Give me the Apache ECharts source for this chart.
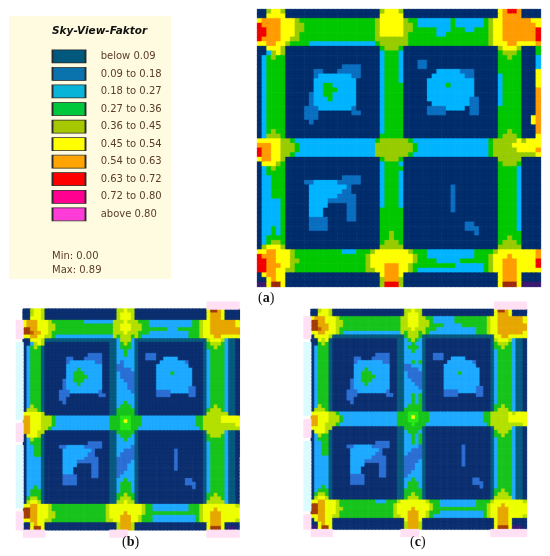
<!DOCTYPE html>
<html>
<head>
<meta charset="utf-8">
<script src="https://cdn.jsdelivr.net/npm/echarts@6/dist/echarts.min.js"></script>
<style>
html, body, #main { margin: 0; padding: 0; width: 550px; height: 556px; overflow: hidden; background: #fff; }
</style>
</head>
<body>
<div id="main"></div>
<script>
// legend classes
const legendLabels = ["below 0.09", "0.09 to 0.18", "0.18 to 0.27", "0.27 to 0.36", "0.36 to 0.45", "0.45 to 0.54", "0.54 to 0.63", "0.63 to 0.72", "0.72 to 0.80", "above 0.80"];
const legendColors = ["#00587c", "#0a72ad", "#08b4d8", "#00c83c", "#a6c800", "#ffff00", "#ffa400", "#ff0000", "#ff0090", "#ff3cd8"];

// one character per cell, columns grouped: edge, block, road, block, road, edge
// 0 navy 1 blue 2 cyan 3 green 4 olive 5 yellow 6 orange 7 red 8 dark red 9 purple t teal g bright green p pink w pale cyan
const cellCodes = "0123456789tgpw";
const paletteA = ["#002d6c", "#0a6fc0", "#00b4ff", "#00c800", "#98cc00", "#ffff00", "#ff9c00", "#f00000", "#9c2a10", "#3a1a70", "#005a7c", "#20e020", "#ffe0f4", "#dcfbff"];
const paletteB = ["#0c2f70", "#2c6fd4", "#1eaaff", "#18c41c", "#b4e000", "#eeff00", "#e6a800", "#c06000", "#a23c08", "#3a1a78", "#085a7e", "#28e818", "#ffe0f4", "#dcfbff"];

const panelA = [
"004554 00000000000000000000 45554 00000000000000000000 56776 0000",
"005555 00000000000000000000 55555 00000000000000000000 56666 0000",
"566665 55433333333333333334 55555 43322222223222222345 56666 6655",
"766665 55443333333333333334 55555 44322222223222222345 56666 6665",
"776665 55443333333333333334 55555 44333332223332233345 56666 6667",
"776665 55433333333333333334 55555 43333332233333333345 56666 6667",
"766665 54433333333333333334 44444 43333333333333333345 56666 6667",
"556655 43333222222222222223 44444 43333333333333333345 55665 5556",
"005554 00000000000000000000 34443 00000000000000000000 45554 0003",
"002454 00000000000000000000 23332 00000000000000000000 34443 0003",
"023433 00000000000000000000 23332 00000000000000000000 33433 0002",
"023333 00000000000000000000 23332 00011000000000000000 33333 0002",
"023333 00000000000011110000 23332 00011000000000000000 33333 0002",
"023333 00000011000111110000 23332 00000002222211100000 33333 0005",
"023333 00000012222222110000 23332 00000022222221100000 23333 0005",
"023333 00000022222222200000 23332 00000222222222200000 23333 0005",
"023333 00000022332222200000 23333 00000222232222200000 23333 0005",
"023333 00000022333222200000 23333 00000222222222200000 23333 0006",
"023333 00000122332222200000 23333 00000222222222200000 23333 0006",
"023333 00000122232222200000 23333 00000222222222110000 23333 0006",
"023333 00000122222222200000 23333 00000022222222110000 23333 0006",
"023333 00001112222222100000 23333 00000111122220110000 33333 0006",
"023333 00001110000000110000 23333 00000111100000110000 33333 0006",
"023333 00001110000000000000 23333 00000000000000000000 33333 0056",
"023333 00000100000000000000 23333 00000000000000000000 33333 0056",
"023333 00000000000000000000 23333 00000000000000000000 33333 0006",
"023433 00000000000000000000 23333 00000000000000000000 33433 0006",
"024443 00000000000000000000 33333 00000000000000000000 34443 0005",
"555554 43222222222222222223 44444 43222222222222222234 44445 4555",
"666554 44322222222222222224 44444 44322222222222222234 44455 5555",
"766554 44322222222222222224 44444 44322222222222222234 44445 5556",
"766554 43222222222222222224 44444 43222222222222222234 44444 4445",
"566554 00000000000000000000 34443 00000000000000000000 44444 0000",
"055543 00000000000000000000 23332 00000000000000000000 34443 0000",
"023433 00000000000000000000 23333 00000000000000000000 33332 0000",
"023333 00000000000000000000 23332 00000000000000000000 33332 0000",
"022333 00000000000011110000 23332 00000000000000000000 33332 0000",
"022333 00001122222111110000 23332 00000000000000000000 33332 0000",
"022333 00000222222221000000 23332 00000000001000000000 33332 0000",
"022333 00000222222211000000 23332 00000000001000000000 33332 0000",
"022333 00000222222111100000 23332 00000000001000000000 33332 0000",
"022223 00000222211111100000 23332 00000000001000000000 33332 0000",
"022223 00000222200001100000 23332 00000000001000000000 33332 0000",
"022223 00000222000001100000 33333 00000000001000000000 33332 0000",
"022223 00000222000001100000 33333 00000000000000000000 33332 0000",
"022223 00000111100001100000 33333 00000000000000000000 33332 0000",
"022223 00000111100000000000 33333 00000000000001100000 33332 0000",
"022323 00000111100000000000 33333 00000000000001110000 33332 0000",
"022323 00000000000000000000 33433 00000000000000010000 33333 0000",
"023333 00000000000000000000 33433 00000000000000000000 33433 0000",
"023443 00000000000000000000 34443 00000000000000000000 34443 0000",
"045554 00000000000000000000 44444 00000000000000000000 44444 0000",
"556655 54333333333322233345 55555 54333222222222233334 55555 5556",
"766655 54333333333333333455 55555 55433222222222233345 55655 5556",
"776655 54433333333333333455 55555 55433332222233333345 56665 5557",
"776665 54333333333333333455 56665 54333333333222222345 56665 5557",
"776655 44333333333333333445 56665 54322222222222222345 56665 5555",
"056655 00000000000000000000 56665 00000000000000000000 56665 0000",
"005655 00000000000000000000 46664 00000000000000000000 56665 0000",
"995885 00000000000000000000 47774 00000000000000000000 58885 9999"
];

const panelB = [
"004554 00000000000000000000 44544 00000000000000000000 58865 0000",
"004554 00000000000000000000 45554 00000000000000000000 56665 0000",
"005554 00000000000000000000 45554 00000000000000000000 56665 0000",
"566655 54333333333222222224 44544 43332222222222223345 56666 6665",
"566655 54433333333333333334 45554 44332222222222223345 56666 6665",
"886655 54433333333333333334 45554 44333333322233333345 56666 6666",
"887665 54333333333333333334 44544 43332222222222233345 56666 6666",
"556655 44322222222222222224 34443 43222222222222233345 55665 5555",
"005554 tttttttttttttttttttt 24442 tttttttttttttttttttt 45554 2tt0",
"002454 000000000000000000tt 23432 t000000000000000000t 34443 2tt0",
"02343t 000000000000000000tt 23332 t000000000000000000t 33433 2tt0",
"02333t 000000000000000000tt 22322 t000000000000000000t 23333 2tt0",
"02333t 000000000000111100tt 22322 t001110000000000000t 23333 2tt0",
"02333t 000000110001111100tt 22222 t001110022220000000t 23333 2tt0",
"02333t 000000122222221100tt 21222 t000000222222210000t 23333 2tt0",
"02333t 000000222222222200tt 11222 t000002222222220000t 23333 2tt0",
"02333t 000000222322222200tt 11112 t000002222222222000t 23333 2tt0",
"02333t 000000223332222200tt 21111 t000002222322222000t 23333 2tt0",
"02333t 000000223333222200tt 21111 t000002222222222000t 23333 2tt0",
"02333t 000001223332222200tt 22111 t000002222222222000t 23333 2tt0",
"02333t 000001222322222200tt 22211 t000002222222222000t 23333 2tt0",
"02333t 000001222222222200tt 22211 t000002222222221100t 23333 2tt0",
"02333t 000011122222222100tt 22221 t000001111222221100t 23333 2tt0",
"02333t 000011100000000110tt 22222 t000001111000001100t 23333 2tt0",
"02333t 000011000000000000tt 22222 t000000000000000000t 23333 2tt0",
"02333t 000001000000000000tt 22322 t000000000000000000t 23333 2tt0",
"02433t 000000000000000000tt 23332 t000000000000000000t 23433 2tt0",
"04443t 000000000000000000tt 33333 t000000000000000000t 34443 2tt0",
"555554 000000000000000000tt 33333 t000000000000000000t 44444 4tt0",
"665554 44322222222222222233 3ggg3 33222222222222222334 44445 5555",
"665554 44322222222222222233 3g5g3 33222222222222222334 44445 5555",
"665554 44322222222222222233 3ggg3 33222222222222222334 44444 4445",
"665554 43222222222222222233 3ggg3 32222222222222222234 44444 4444",
"665544 000000000000000000tt 33333 t000000000000000000t 44444 2tt0",
"05554t 000000000000000000tt 23332 t000000000000000000t 34443 2tt0",
"02433t 000000000000000000tt 22322 t000000000000000000t 33333 2tt0",
"02333t 000000000000111100tt 22222 t000000000000000000t 23333 2tt0",
"02233t 000011222221111100tt 22221 t000000000000000000t 23333 2tt0",
"02233t 000002222222210000tt 22111 t000000000010000000t 23333 2tt0",
"02233t 000002222222110000tt 21111 t000000000010000000t 23333 2tt0",
"02222t 000002222221111000tt 11111 t000000000010000000t 23333 2tt0",
"02222t 000002222111111000tt 11112 t000000000010000000t 23333 2tt0",
"02222t 000002222000011000tt 11122 t000000000010000000t 23333 2tt0",
"02222t 000002220000011000tt 11122 t000000000010000000t 23333 2tt0",
"02222t 000002220000011000tt 11222 t000000000000000000t 23333 2tt0",
"02222t 000001111000011000tt 12222 t000000000000000000t 23333 2tt0",
"02222t 000001111000000000tt 22322 t000000000000011000t 23333 2tt0",
"02222t 000001111000000000tt 23332 t000000000000011100t 23333 2tt0",
"02232t 000000000000000000tt 23332 t000000000000000100t 23333 2tt0",
"02333t 000000000000000000tt 23332 t000000000000000000t 23333 2tt0",
"02333t 000000000000000000tt 33433 t000000000000000000t 33433 2tt0",
"03443t 000000000000000000tt 34443 t000000000000000000t 34443 2tt0",
"04554t 000000000000000000tt 44544 t000000000000000000t 44444 2tt0",
"556655 54333333333333333455 55555 55433222222222233345 55555 5554",
"886655 54333333333333333455 55555 55433222222222233345 55655 5555",
"886655 54433333333333333455 55655 55433333333333333345 56665 5555",
"886655 54433333333333333455 56665 54333222222222222345 56665 5555",
"556655 44333333333333333445 56665 54333222222222222345 56665 5554",
"005655 00000000000000000000 46664 00000000000000000000 56665 0000",
"095885 00000000000000000000 46664 00000000000000000000 58885 0990"
];

const panelC = [
"004554 00000000000000000000 44544 00000000000000000000 58865 0000",
"005554 00000000000000000000 45554 00000000000000000000 56665 0000",
"566655 54333333333333333334 45554 43322222233333333345 56666 6665",
"886655 54433333333333333334 45554 44322222233333333345 56666 6665",
"886665 54433333333333333334 45554 44333322222333333345 56666 6666",
"887665 54333333333333333334 44544 43332222222222233345 56666 6666",
"556655 54322222222222222224 34443 43222222222222233345 56666 6665",
"055554 tttttttttttttttttttt 34443 tttttttttttttttttttt 55665 5555",
"00545t 000000000000000000tt 23432 t000000000000000000t 45554 2tt0",
"00343t 000000000000000000tt 22322 t000000000000000000t 34443 2tt0",
"02333t 000000000000000000tt 23332 t000000000000000000t 33433 2tt0",
"02333t 000000000000000000tt 22322 t000000000000000000t 23333 2tt0",
"02333t 000000000000111100tt 22222 t001110000000000000t 23333 2tt0",
"02333t 000000110001111100tt 22222 t001110022220000000t 23333 2tt0",
"02333t 000000122222221100tt 22323 t000000222222210000t 23333 2tt0",
"02333t 000000222222222200tt 11222 t000002222222220000t 23333 2tt0",
"02333t 000000222322222200tt 11112 t000002222222222000t 23333 2tt0",
"02333t 000000223332222200tt 21111 t000002222322222000t 23333 2tt0",
"02333t 000000223333222200tt 21111 t000002222222222000t 23333 2tt0",
"02333t 000001223332222200tt 22111 t000002222222222000t 23333 2tt0",
"02333t 000001222322222200tt 22211 t000002222222222000t 23333 2tt0",
"02333t 000001222222222200tt 22221 t000002222222221100t 23333 2tt0",
"02333t 000011122222222100tt 22222 t000001111222221100t 23333 2tt0",
"02333t 000011100000000110tt 22323 t000001111000001100t 23333 2tt0",
"02333t 000011000000000000tt 22323 t000000000000000000t 23333 2tt0",
"02333t 000001000000000000tt 22323 t000000000000000000t 23333 2tt0",
"02433t 000000000000000000tt 23333 t000000000000000000t 33433 2tt0",
"04443t 000000000000000000tt 33333 t000000000000000000t 34443 2tt0",
"555554 43222222222222222233 3ggg3 33222222222222222334 44445 4555",
"665554 44322222222222222233 3g5g3 33222222222222222334 44445 5555",
"665554 44322222222222222233 3ggg3 33222222222222222334 44445 5555",
"665544 43222222222222222233 33g33 32222222222222222234 44444 4445",
"555544 000000000000000000tt 33333 t000000000000000000t 44444 2tt0",
"05554t 000000000000000000tt 23332 t000000000000000000t 34443 2tt0",
"02433t 000000000000000000tt 22323 t000000000000000000t 33433 2tt0",
"02333t 000000000000000000tt 22323 t000000000000000000t 23333 2tt0",
"02233t 000000000000111100tt 22323 t000000000000000000t 23333 2tt0",
"02233t 000011222221111100tt 22221 t000000000010000000t 23333 2tt0",
"02233t 000002222222210000tt 22111 t000000000010000000t 23333 2tt0",
"02233t 000002222222110000tt 21111 t000000000010000000t 23333 2tt0",
"02222t 000002222221111000tt 11111 t000000000010000000t 23333 2tt0",
"02222t 000002222111111000tt 11112 t000000000010000000t 23333 2tt0",
"02222t 000002222000011000tt 11122 t000000000010000000t 23333 2tt0",
"02222t 000002220000011000tt 11122 t000000000000000000t 23333 2tt0",
"02222t 000002220000011000tt 11222 t000000000000000000t 23333 2tt0",
"02222t 000001111000011000tt 12222 t000000000000000000t 23333 2tt0",
"02222t 000001111000000000tt 22322 t000000000000011000t 23333 2tt0",
"02222t 000001111000000000tt 23332 t000000000000011100t 23333 2tt0",
"02232t 000000000000000000tt 23332 t000000000000000100t 23333 2tt0",
"02333t 000000000000000000tt 33333 t000000000000000000t 33433 2tt0",
"03443t 000000000000000000tt 33433 t000000000000000000t 34443 2tt0",
"04554t 000000000000000000tt 34443 t000000000000000000t 44444 2tt0",
"556655 54333333333322233345 55555 54333222222222233334 55555 5554",
"886655 54333333333333333455 55555 55433222222222233345 55655 5555",
"886655 54433333333333333455 55655 55433333333333333345 56665 5555",
"886655 54333333333333333455 56665 54333222222222222345 56665 5555",
"556655 44333333333333333445 56665 54322222222222222345 56665 5554",
"056655 00000000000000000000 56665 00000000000000000000 56665 0000",
"005655 00000000000000000000 46664 00000000000000000000 56665 0000",
"995885 00000000000000000000 46664 00000000000000000000 58885 9990"
];

// pale scan halo around (b) and (c): left column per row, then top and bottom row per column
const haloLeftB = "...ppppp.wwwwwwwwwwwwwwwwwwwww.ppppp.wwwwwwwwwwwwwwwww.ppppp.";
const haloTopB = "...................................................ppppppppp";
const haloBottomB = "pppppp..................ppppp......................ppppppppp";
const haloLeftC = "..pppppp.wwwwwwwwwwwwwwwwwwww.ppppp.wwwwwwwwwwwwwwwwwww.pppp.";
const haloTopC = "...................................................ppppppppp";
const haloBottomC = "pppppp...................ppppp....................ppppppppppp";

// thin border in the cell's own colour, bands are not whole pixels and would show seams
function cell(x, y, code, palette) {
  const c = cellCodes.indexOf(code);
  return { value: [x, y, c], itemStyle: { borderColor: palette[c], borderWidth: 0.3 } };
}

function toCells(rows, padX, padY, palette) {
  const cells = [];
  rows.forEach((row, y) => {
    const r = row.replace(/ /g, "");
    for (let x = 0; x < r.length; x++) {
      cells.push(cell(x + padX, y + padY, r[x], palette));
    }
  });
  return cells;
}

function haloCells(left, top, bottom, palette) {
  const cells = [];
  for (let y = 0; y < 60; y++) {
    if (left[y] !== ".") {
      cells.push(cell(0, y + 2, left[y], palette), cell(1, y + 2, left[y], palette));
    }
  }
  for (let x = 0; x < 60; x++) {
    if (top[x] !== ".") {
      cells.push(cell(x + 2, 0, top[x], palette), cell(x + 2, 1, top[x], palette));
    }
    if (bottom[x] !== ".") {
      cells.push(cell(x + 2, 62, bottom[x], palette), cell(x + 2, 63, bottom[x], palette));
    }
  }
  return cells;
}

function range(n) {
  return Array.from({ length: n }, (_, i) => i);
}

function hiddenAxis(n, inverse, gridIndex) {
  return { type: "category", gridIndex: gridIndex, data: range(n), inverse: inverse, show: false };
}

function pieces(palette) {
  return palette.map((c, i) => ({ value: i, color: c }));
}

function panelTag(letter, left, top) {
  return {
    text: "({b|" + letter + "})",
    left: left,
    top: top,
    textStyle: {
      fontFamily: "Liberation Serif",
      fontSize: 14,
      fontWeight: "normal",
      color: "#111111",
      rich: { b: { fontFamily: "Liberation Serif", fontSize: 14, fontWeight: "bold", color: "#111111" } }
    }
  };
}

const textColor = "#5a3b2c";
const myChart = echarts.init(document.getElementById("main"));

const option = {
  animation: false,
  backgroundColor: "#ffffff",
  graphic: [{ type: "rect", z: -1, shape: { x: 9, y: 16, width: 162, height: 263 }, style: { fill: "#fffbe0" } }],
  title: [
    { text: "Sky-View-Faktor", left: 47, top: 21, textStyle: { fontFamily: "DejaVu Sans", fontSize: 10.5, fontWeight: "bold", fontStyle: "italic", color: "#111111" } },
    { text: "Min: 0.00", left: 47, top: 246, textStyle: { fontFamily: "DejaVu Sans", fontSize: 10, fontWeight: "normal", color: textColor } },
    { text: "Max: 0.89", left: 47, top: 260, textStyle: { fontFamily: "DejaVu Sans", fontSize: 10, fontWeight: "normal", color: textColor } },
    panelTag("a", 253, 286),
    panelTag("b", 117, 530),
    panelTag("c", 405, 530)
  ],
  grid: [
    { left: 257.3, top: 9.3, width: 283.4, height: 277.4 },
    { left: 16.1, top: 301.9, width: 223.2, height: 235.5 },
    { left: 303.8, top: 301.9, width: 222.9, height: 234.8 },
    { left: 52, top: 47.6, width: 34, height: 175.5 }
  ],
  xAxis: [
    hiddenAxis(60, false, 0),
    hiddenAxis(62, false, 1),
    hiddenAxis(62, false, 2),
    { type: "category", gridIndex: 3, data: ["swatch"], show: false }
  ],
  yAxis: [
    hiddenAxis(60, true, 0),
    hiddenAxis(64, true, 1),
    hiddenAxis(64, true, 2),
    {
      type: "category",
      gridIndex: 3,
      position: "right",
      inverse: true,
      data: legendLabels,
      axisLine: { show: false },
      axisTick: { show: false },
      axisLabel: { margin: 14.7, fontFamily: "DejaVu Sans", fontSize: 10, color: textColor }
    }
  ],
  visualMap: [
    { type: "piecewise", show: false, seriesIndex: 0, dimension: 2, pieces: pieces(paletteA) },
    { type: "piecewise", show: false, seriesIndex: 1, dimension: 2, pieces: pieces(paletteB) },
    { type: "piecewise", show: false, seriesIndex: 2, dimension: 2, pieces: pieces(paletteB) }
  ],
  series: [
    { type: "heatmap", xAxisIndex: 0, yAxisIndex: 0, data: toCells(panelA, 0, 0, paletteA) },
    { type: "heatmap", xAxisIndex: 1, yAxisIndex: 1, data: toCells(panelB, 2, 2, paletteB).concat(haloCells(haloLeftB, haloTopB, haloBottomB, paletteB)) },
    { type: "heatmap", xAxisIndex: 2, yAxisIndex: 2, data: toCells(panelC, 2, 2, paletteB).concat(haloCells(haloLeftC, haloTopC, haloBottomC, paletteB)) },
    {
      type: "scatter",
      xAxisIndex: 3,
      yAxisIndex: 3,
      symbol: "rect",
      symbolSize: [33, 13],
      itemStyle: { borderColor: "#2b2b2b", borderWidth: 1.2, opacity: 1 },
      data: legendLabels.map((label, i) => ({ value: ["swatch", label], itemStyle: { color: legendColors[i] } }))
    }
  ]
};

myChart.setOption(option);
window.onresize = myChart.resize;
</script>
</body>
</html>
